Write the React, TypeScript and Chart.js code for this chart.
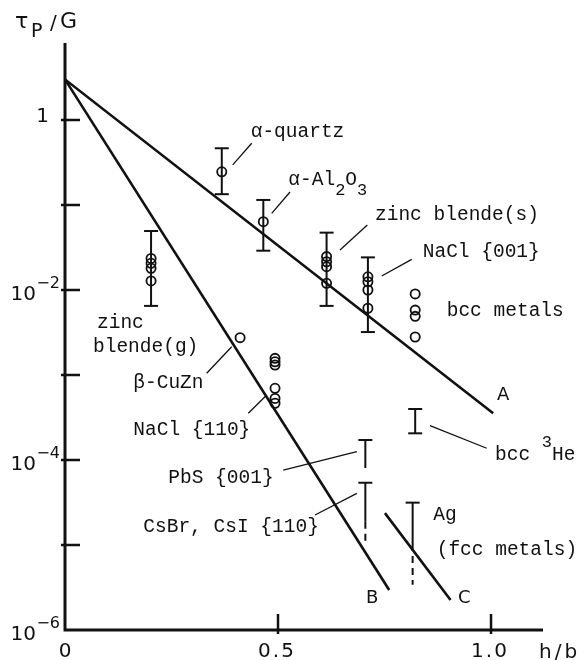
import React, { useEffect, useRef } from 'react';
import { Chart, registerables } from 'chart.js';

Chart.register(...registerables);

// ---- axes ----
const X_MAX = 1.122;
const Y_MIN = 1e-6;
const Y_MAX = 8.05;
const xTickValues = [0.5, 1.0];
const xTickLabels = ['0', '0.5', '1.0'];
const xLabelValues = [0, 0.5, 1.0];
const yTickExponents = [0, -1, -2, -3, -4, -5];
const yLabelExponents = [0, -2, -4, -6];

// ---- fitted lines A, B, C ----
const lineAX = [0, 1.005];
const lineAY = [3.0, 3.54e-4];
const lineBX = [0, 0.761];
const lineBY = [3.0, 2.95e-6];
const lineCX = [0.751, 0.905];
const lineCY = [2.37e-5, 2.25e-6];
const curveLabels = ['A', 'B', 'C'];
const curveLabelH = [1.014, 0.7066, 0.9225];
const curveLabelV = [5.08e-4, 2.08e-6, 2.08e-6];

// ---- measured points (open circles) ----
const materialH = [0.368, 0.4655, 0.202, 0.614, 0.711, 0.822, 0.411, 0.493];
const materialVals = [
  [0.246],
  [0.0637],
  [0.0235, 0.0206, 0.018, 0.0128],
  [0.0247, 0.0215, 0.0188, 0.012],
  [0.0143, 0.0125, 0.01, 0.0061],
  [0.009, 0.0058, 0.0049, 0.0028],
  [0.00275],
  [1.57e-3, 1.43e-3, 1.31e-3, 6.97e-4, 5.3e-4, 4.65e-4],
];

// ---- error bars ----
const barH = [0.368, 0.4655, 0.202, 0.614, 0.711, 0.705, 0.705, 0.816, 0.822];
const barTop = [0.465, 0.1146, 0.0494, 0.0473, 0.0242, 1.72e-4, 5.4e-5, 3.15e-5, 3.98e-4];
const barBottom = [0.134, 0.029, 0.0065, 0.0065, 0.0032, 8.05e-5, 1.88e-5, 1.03e-5, 2.06e-4];
const barBottomCap = [true, true, true, true, true, false, false, false, true];
const barDashedTo: (number | null)[] = [null, null, null, null, null, null, 1.1e-5, 3.4e-6, null];

// ---- leader lines ----
const leaderX1 = [0.3937, 0.4852, 0.6455, 0.7434, 0.3326, 0.4303, 0.5124, 0.5869, 0.8568];
const leaderY1 = [0.296, 0.0798, 0.0296, 0.01462, 1.047e-3, 3.54e-4, 7.62e-5, 2.254e-5, 2.535e-4];
const leaderX2 = [0.4383, 0.5282, 0.7096, 0.8138, 0.3913, 0.4735, 0.685, 0.685, 0.9899];
const leaderY2 = [0.532, 0.1422, 0.0582, 0.02296, 2.153e-3, 5.82e-4, 1.253e-4, 4.055e-5, 1.374e-4];

// ---- annotation texts (_x = subscript, ^x = superscript) ----
const labelTexts = [
  'α-quartz', 'α-Al_2O_3', 'zinc blende(s)', 'NaCl {001}', 'bcc metals',
  'zinc', 'blende(g)', 'β-CuZn', 'NaCl {110}', 'PbS {001}', 'CsBr, CsI {110}',
  'bcc ^3He', 'Ag', '(fcc metals)',
];
const labelH = [0.4359, 0.5242, 0.7277, 0.8397, 0.896, 0.0751, 0.0657, 0.1603, 0.1603, 0.2425, 0.1838, 1.0094, 0.8646, 0.8725];
const labelV = [0.631, 0.1718, 0.0667, 0.02466, 4.94e-3, 3.57e-3, 1.866e-3, 6.98e-4, 1.968e-4, 5.32e-5, 1.435e-5, 1e-4, 1.968e-5, 7.62e-6];

const INK = '#111';
const MONO = "19.5px 'Liberation Mono', 'DejaVu Sans Mono', monospace";
const MONO_SMALL = "17px 'Liberation Mono', 'DejaVu Sans Mono', monospace";
const SANS = "'DejaVu Sans', 'Liberation Sans', sans-serif";

function drawRich(ctx: CanvasRenderingContext2D, text: string, x: number, y: number) {
  let cx = x;
  for (let i = 0; i < text.length; i++) {
    let ch = text[i];
    let dy = 0;
    let f = MONO;
    if (ch === '_' || ch === '^') {
      dy = ch === '_' ? 10 : -13;
      f = MONO_SMALL;
      i++;
      ch = text[i];
    }
    ctx.font = f;
    ctx.fillText(ch, cx, y + dy);
    cx += ctx.measureText(ch).width;
  }
}

const decor = {
  id: 'decor',
  afterDraw(chart: any) {
    const ctx: CanvasRenderingContext2D = chart.ctx;
    const xs = chart.scales.x;
    const ys = chart.scales.y;
    const x0 = xs.getPixelForValue(0);
    const y0 = ys.getPixelForValue(Y_MIN);
    const area = chart.chartArea;
    ctx.save();
    ctx.strokeStyle = INK;
    ctx.fillStyle = INK;
    ctx.lineCap = 'butt';

    // axes
    ctx.lineWidth = 3;
    ctx.beginPath();
    ctx.moveTo(x0, area.top);
    ctx.lineTo(x0, y0 + 1.5);
    ctx.moveTo(x0 - 1.5, y0);
    ctx.lineTo(area.right, y0);
    ctx.stroke();

    // ticks
    ctx.lineWidth = 2.5;
    ctx.beginPath();
    yTickExponents.forEach((k) => {
      const py = ys.getPixelForValue(Math.pow(10, k));
      ctx.moveTo(x0 - 4, py);
      ctx.lineTo(x0 + 15, py);
    });
    xTickValues.forEach((v) => {
      const px = xs.getPixelForValue(v);
      ctx.moveTo(px, y0 + 4);
      ctx.lineTo(px, y0 - 16);
    });
    ctx.stroke();

    // y labels
    yLabelExponents.forEach((k) => {
      const py = ys.getPixelForValue(Math.pow(10, k));
      if (k === 0) {
        ctx.font = `20px ${SANS}`;
        ctx.textAlign = 'right';
        ctx.fillText('1', x0 - 16, py + 2);
      } else {
        ctx.textAlign = 'right';
        ctx.font = `16px ${SANS}`;
        ctx.fillText('\u2212' + String(-k), x0 - 5, py - 2);
        ctx.font = `20px ${SANS}`;
        ctx.fillText('10', x0 - 29, py + 10);
      }
    });

    // x labels
    ctx.textAlign = 'center';
    ctx.font = `20px ${SANS}`;
    xLabelValues.forEach((v, i) => {
      const px = xs.getPixelForValue(v) - (v === 0 ? 0 : 2);
      (ctx as any).letterSpacing = v === 0 ? '0px' : '2px';
      ctx.fillText(xTickLabels[i], px + (v === 0 ? 0 : 1), y0 + 27);
    });
    (ctx as any).letterSpacing = '3px';
    ctx.textAlign = 'left';
    ctx.fillText('h/b', area.right - 4, y0 + 28);
    (ctx as any).letterSpacing = '0px';

    // y title  τP / G
    ctx.textAlign = 'left';
    ctx.font = `22px ${SANS}`;
    ctx.fillText('τ', x0 - 50, 28);
    ctx.font = `19px ${SANS}`;
    ctx.fillText('P', x0 - 34, 37);
    ctx.font = `20px ${SANS}`;
    ctx.fillText('/', x0 - 15, 29);
    ctx.font = `22px ${SANS}`;
    ctx.fillText('G', x0 - 5, 28);

    // curve labels
    ctx.font = `18px ${SANS}`;
    curveLabels.forEach((t, i) => {
      ctx.fillText(t, xs.getPixelForValue(curveLabelH[i]), ys.getPixelForValue(curveLabelV[i]));
    });

    // annotation texts
    labelTexts.forEach((t, i) => {
      drawRich(ctx, t, xs.getPixelForValue(labelH[i]), ys.getPixelForValue(labelV[i]));
    });
    ctx.restore();
  },
};

function seg(x1: number, y1: number, x2: number, y2: number, width: number, dash?: number[], order = 2) {
  return {
    type: 'line',
    data: [{ x: x1, y: y1 }, { x: x2, y: y2 }],
    borderColor: INK,
    borderWidth: width,
    borderDash: dash || [],
    pointRadius: 0,
    showLine: true,
    fill: false,
    tension: 0,
    order,
  };
}

export default function App() {
  const ref = useRef<HTMLCanvasElement>(null);
  useEffect(() => {
    const canvas = ref.current;
    if (!canvas) return;
    const datasets: any[] = [];

    // main lines
    datasets.push(seg(lineAX[0], lineAY[0], lineAX[1], lineAY[1], 2.6));
    datasets.push(seg(lineBX[0], lineBY[0], lineBX[1], lineBY[1], 2.6));
    datasets.push(seg(lineCX[0], lineCY[0], lineCX[1], lineCY[1], 2.6));

    // leaders
    leaderX1.forEach((_, i) => {
      datasets.push(seg(leaderX1[i], leaderY1[i], leaderX2[i], leaderY2[i], 1.3));
    });

    // error bars
    const caps: { x: number; y: number }[] = [];
    barH.forEach((h, i) => {
      datasets.push(seg(h, barTop[i], h, barBottom[i], 2));
      const d = barDashedTo[i];
      if (d !== null) datasets.push(seg(h, barBottom[i], h, d, 2, [7, 5]));
      caps.push({ x: h, y: barTop[i] });
      if (barBottomCap[i]) caps.push({ x: h, y: barBottom[i] });
    });
    datasets.push({
      type: 'scatter',
      data: caps,
      pointStyle: 'line',
      pointRadius: 7,
      borderWidth: 2,
      borderColor: INK,
      backgroundColor: INK,
      order: 1,
    });

    // open circles
    const pts: { x: number; y: number }[] = [];
    materialH.forEach((h, i) => materialVals[i].forEach((v) => pts.push({ x: h, y: v })));
    datasets.push({
      type: 'scatter',
      data: pts,
      pointStyle: 'circle',
      pointRadius: 4.6,
      borderWidth: 1.8,
      borderColor: INK,
      backgroundColor: 'rgba(255,255,255,0)',
      order: 0,
    });

    const chart = new Chart(canvas, {
      type: 'scatter',
      data: { datasets },
      options: {
        animation: false,
        responsive: false,
        maintainAspectRatio: false,
        events: [],
        layout: { padding: { left: 65, right: 43, top: 43, bottom: 30 } },
        plugins: { legend: { display: false }, tooltip: { enabled: false } },
        scales: {
          x: { type: 'linear', min: 0, max: X_MAX, display: false },
          y: { type: 'logarithmic', min: Y_MIN, max: Y_MAX, display: false },
        },
      } as any,
      plugins: [decor as any],
    });
    return () => chart.destroy();
  }, []);

  return (
    <div style={{ position: 'absolute', left: 0, top: 0, width: 586, height: 660, background: '#fff' }}>
      <canvas ref={ref} width={586} height={660} style={{ display: 'block', width: 586, height: 660 }} />
    </div>
  );
}
